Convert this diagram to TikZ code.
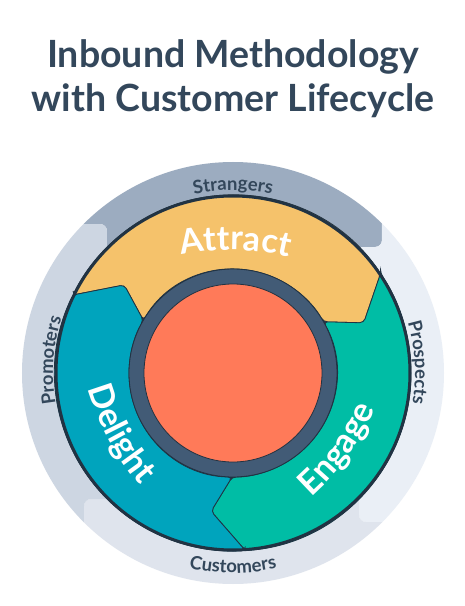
\documentclass[tikz,border=0pt]{standalone}
\usepackage{fontspec}
\setmainfont{Lato}
\usetikzlibrary{decorations.text}

\definecolor{slate}{RGB}{51,71,91}
\definecolor{ringline}{RGB}{33,51,67}
\definecolor{hubring}{RGB}{66,91,118}
\definecolor{hub}{RGB}{255,122,89}
\definecolor{attract}{RGB}{245,194,107}
\definecolor{engage}{RGB}{0,189,165}
\definecolor{delight}{RGB}{0,164,189}
\definecolor{strangers}{RGB}{156,172,192}
\definecolor{prospects}{RGB}{234,239,246}
\definecolor{customers}{RGB}{223,228,237}
\definecolor{promoters}{RGB}{205,214,226}

\newcommand\bandsize{\bfseries\fontsize{18.5}{22}\selectfont}
\newcommand\stagesize{\bfseries\fontsize{34}{37}\selectfont}

\tikzset{
  band label/.style={decorate, decoration={text along path, text align=center,
      text color=slate, text={|\bandsize|#1}}},
  stage label/.style={decorate, decoration={text along path, text align=center,
      text color=white, text={|\stagesize|#1}}},
  segment/.style={fill=#1, draw=ringline, line width=0.8pt, rounded corners=4pt},
  title/.style={anchor=base, text=slate, font=\bfseries\fontsize{37.5}{40}\selectfont}
}

\begin{document}
\begin{tikzpicture}[x=1pt, y=1pt]
  \fill[white] (-233,-233) rectangle (232,373);
  \useasboundingbox (-233,-233) rectangle (232,373);

  % title
  \node[title] (title1) at (0,305) {Inbound Methodology};
  \node[title] (title2) at (0,261) {with Customer Lifecycle};

  % lifecycle bands
  \begin{scope}
    \clip (0,0) circle[radius=211];
    \foreach \r/\col in {0/strangers, -90/prospects, -180/customers, 90/promoters}
      \fill[\col, rotate=\r, rounded corners=7pt] (149,300) -- (149,126) -- (110,126)
        -- (0,0) -- (-126,110) -- (-126,149) -- (-300,149) -- (-300,300) -- cycle;
  \end{scope}

  % flywheel
  \fill[ringline] (0,0) circle[radius=178];
  \foreach \r/\col in {0/attract, -120/engage, 120/delight}
    \draw[segment=\col, rotate=\r] (154:178) -- (141:140) -- (149.5:104)
      arc[start angle=149.5, end angle=29.5, radius=104] -- (21:140) -- (34:178)
      arc[start angle=34, end angle=154, radius=178] -- cycle;
  \draw[ringline, line width=3pt] (0,0) circle[radius=177];
  \draw[fill=hubring, draw=ringline, line width=0.8pt] (0,0) circle[radius=104];
  \draw[fill=hub, draw=ringline, line width=0.8pt] (0,0) circle[radius=89];

  % band labels
  \path[band label=Strangers] (115:183) arc[start angle=115, end angle=65, radius=183];
  \path[band label=Prospects] (28.3:182) arc[start angle=28.3, end angle=-21.7, radius=182];
  \path[band label=Customers] (245:200) arc[start angle=245, end angle=295, radius=200];
  \path[band label=Promoters] (201:180) arc[start angle=201, end angle=151, radius=180];

  % stage labels
  \path[stage label=Attract, shift={(269:127)}] (112:250) arc[start angle=112, end angle=66, radius=250];
  \path[stage label=Engage, shift={(144:108)}] (-56:250) arc[start angle=-56, end angle=-16, radius=250];
  \path[stage label=Delight, shift={(28.3:109)}] (188.3:250) arc[start angle=188.3, end angle=228.3, radius=250];
\end{tikzpicture}
\end{document}
